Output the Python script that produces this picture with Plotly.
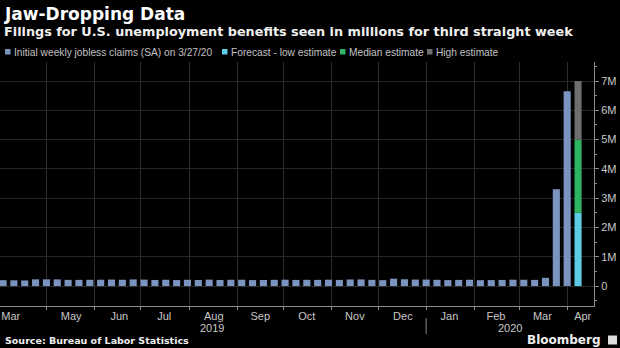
import pandas as pd
import plotly.graph_objects as go

# ---------------- data ----------------
week_start = "2019-03-30"  # first week-ending date (Saturday)
claims = [202000, 196000, 193000, 230000, 230000, 228000, 212000, 211000, 215000, 218000,
          222000, 216000, 227000, 221000, 209000, 216000, 206000, 215000, 209000, 220000,
          209000, 215000, 217000, 204000, 208000, 213000, 219000, 210000, 214000, 212000,
          218000, 211000, 225000, 227000, 213000, 203000, 252000, 234000, 222000, 222000,
          214000, 204000, 211000, 216000, 202000, 205000, 210000, 219000, 216000, 211000,
          282000, 3307000, 6648000]
week_dates = pd.date_range(week_start, periods=len(claims), freq="7D")

forecast_date = ["2020-04-04"]
forecast_low = [2500000]
forecast_median = [5000000]
forecast_high = [7000000]

month_labels = ["Mar", "May", "Jun", "Jul", "Aug", "Sep", "Oct", "Nov", "Dec", "Jan", "Feb", "Mar", "Apr"]
month_label_dates = ["2019-04-08", "2019-05-17", "2019-06-17", "2019-07-16", "2019-08-17",
                     "2019-09-16", "2019-10-16", "2019-11-16", "2019-12-17", "2020-01-16",
                     "2020-02-15", "2020-03-16", "2020-04-11"]
year_labels = ["2019", "2020"]
year_label_dates = ["2019-08-16", "2020-02-24"]
year_break = "2020-01-01"

y_tickvals = [0, 1000000, 2000000, 3000000, 4000000, 5000000, 6000000, 7000000]
y_ticktext = ["0", "1M", "2M", "3M", "4M", "5M", "6M", "7M"]

legend_names = ["Initial weekly jobless claims (SA) on 3/27/20", "Forecast - low estimate",
                "Median estimate", "High estimate"]

# ---------------- style ----------------
C_ACT = "#7b93bf"
C_LOW = "#5ccbe3"
C_MED = "#2eb360"
C_HIGH = "#6e6e6e"
DAY_MS = 86400000
BAR_W = 4.6 * DAY_MS
period_kw = dict(xperiod=7 * DAY_MS, xperiod0="2019-03-27", xperiodalignment="end")
FONT = "Liberation Sans"
TFONT = "DejaVu Sans"
PW, PH, PT = 594, 244, 62  # plot width, height, top margin (px)


def px(x):
    return x / PW


def py(y):
    return (PT + PH - y) / PH


fig = go.Figure()
fig.add_trace(go.Bar(x=week_dates, y=claims, marker=dict(color=C_ACT, line_width=0),
                     width=BAR_W, name=legend_names[0], **period_kw))
fig.add_trace(go.Bar(x=forecast_date, y=forecast_low, base=[0],
                     marker=dict(color=C_LOW, line_width=0), width=BAR_W,
                     name=legend_names[1], **period_kw))
fig.add_trace(go.Bar(x=forecast_date, y=[m - l for m, l in zip(forecast_median, forecast_low)],
                     base=forecast_low, marker=dict(color=C_MED, line_width=0), width=BAR_W,
                     name=legend_names[2], **period_kw))
fig.add_trace(go.Bar(x=forecast_date, y=[h - m for h, m in zip(forecast_high, forecast_median)],
                     base=forecast_median, marker=dict(color=C_HIGH, line_width=0), width=BAR_W,
                     name=legend_names[3], **period_kw))

fig.update_layout(
    width=620, height=348,
    margin=dict(l=0, r=620 - PW, t=PT, b=348 - PT - PH),
    paper_bgcolor="#000000", plot_bgcolor="#000000",
    showlegend=False, barmode="overlay",
    font=dict(family=FONT, color="#cccccc", size=11),
)

fig.update_xaxes(
    type="date",
    range=["2019-04-01 01:30", "2020-04-18 07:00"],
    tickmode="array", tickvals=month_label_dates, ticktext=month_labels,
    ticks="", showgrid=False, tickfont=dict(size=11, color="#c8c8c8"),
    ticklabeloverflow="allow",
    showline=True, linecolor="#8a8a8a", linewidth=1,
    minor=dict(dtick="M1", tick0="2019-01-01", showgrid=True, gridcolor="#2c2c2c",
               gridwidth=1, ticks="outside", ticklen=3, tickcolor="#8a8a8a"),
    zeroline=False,
)
fig.update_yaxes(
    side="right", range=[-680000, 7650000],
    tickmode="array", tickvals=y_tickvals, ticktext=y_ticktext,
    ticks="outside", ticklen=4, tickcolor="#8a8a8a",
    tickfont=dict(size=11, color="#c8c8c8"),
    showgrid=True, gridcolor="#262626", gridwidth=1,
    showline=True, linecolor="#8a8a8a", linewidth=1, zeroline=False,
    minor=dict(dtick=500000, tick0=0, ticks="outside", ticklen=2, tickcolor="#8a8a8a", showgrid=False),
)

# year labels and separator
for lab, d in zip(year_labels, year_label_dates):
    fig.add_annotation(x=d, y=py(328), xref="x", yref="paper", text=lab, showarrow=False,
                       font=dict(size=11, color="#c8c8c8"), xanchor="center", yanchor="middle")
fig.add_shape(type="line", x0=year_break, x1=year_break, xref="x", yref="paper",
              y0=py(318), y1=py(334), line=dict(color="#8a8a8a", width=1))

# titles
fig.add_annotation(x=px(2), y=py(14), xref="paper", yref="paper", text="<b>Jaw-Dropping Data</b>",
                   showarrow=False, xanchor="left", yanchor="middle",
                   font=dict(family=TFONT, size=17, color="#ffffff"))
fig.add_annotation(x=px(2), y=py(31), xref="paper", yref="paper",
                   text="<b>Filings for U.S. unemployment benefits seen in millions for third straight week</b>",
                   showarrow=False, xanchor="left", yanchor="middle",
                   font=dict(family=TFONT, size=12.8, color="#f0f0f0"))

# legend (squares + labels placed on one row)
legend_colors = [C_ACT, C_LOW, C_MED, C_HIGH]
legend_x = [5, 222, 340, 427]
for name, col, lx in zip(legend_names, legend_colors, legend_x):
    fig.add_shape(type="rect", xref="paper", yref="paper",
                  x0=px(lx), x1=px(lx + 5.5), y0=py(54.5), y1=py(49),
                  fillcolor=col, line_width=0)
    fig.add_annotation(x=px(lx + 6.5), y=py(52), xref="paper", yref="paper", text=name,
                       showarrow=False, xanchor="left", yanchor="middle",
                       font=dict(family=FONT, size=10.2, color="#c0c0c0"))

# footer
fig.add_annotation(x=px(3), y=py(340.5), xref="paper", yref="paper",
                   text="<b>Source: Bureau of Labor Statistics</b>", showarrow=False,
                   xanchor="left", yanchor="middle", font=dict(family=TFONT, size=9.5, color="#eeeeee"))
fig.add_annotation(x=px(603), y=py(340), xref="paper", yref="paper",
                   text="<b>Bloomberg</b>", showarrow=False,
                   xanchor="right", yanchor="middle", font=dict(family=TFONT, size=12, color="#eeeeee"))
fig.add_shape(type="rect", xref="paper", yref="paper", x0=px(608), x1=px(617),
              y0=py(344.5), y1=py(335.5), fillcolor="#dddddd", line_width=0)

fig.write_html("out.html")
